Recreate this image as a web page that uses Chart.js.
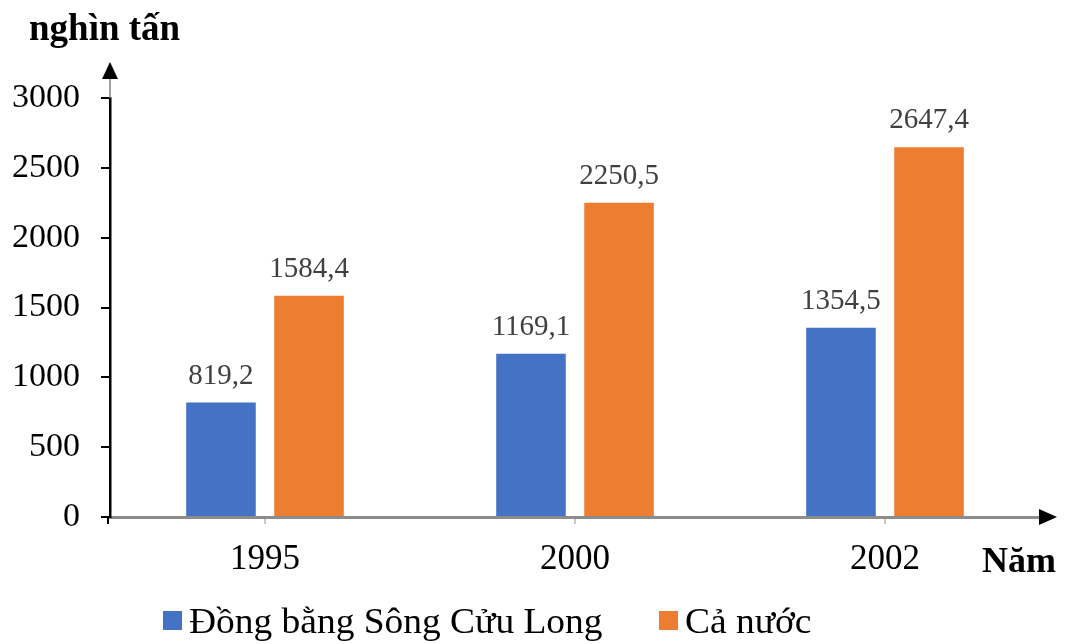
<!DOCTYPE html>
<html>
<head>
<meta charset="utf-8">
<script src="https://cdn.jsdelivr.net/npm/chart.js@4/dist/chart.umd.min.js"></script>
<style>
  html, body { margin: 0; padding: 0; background: #ffffff; }
  #wrap { width: 1065px; height: 644px; }
</style>
</head>
<body>
<div id="wrap"><canvas id="c" width="1065" height="644"></canvas></div>
<script>
// Sản lượng thủy sản (nghìn tấn)
const years = ['1995', '2000', '2002'];
const dbsclValues = [819.2, 1169.1, 1354.5];
const caNuocValues = [1584.4, 2250.5, 2647.4];
const seriesNames = ['Đồng bằng Sông Cửu Long', 'Cả nước'];
const yTicks = [0, 500, 1000, 1500, 2000, 2500, 3000];
const yAxisTitle = 'nghìn tấn';
const xAxisTitle = 'Năm';

const BLUE = '#4472C4';
const ORANGE = '#ED7D31';
const SERIF = "'Liberation Serif', 'Times New Roman', serif";

function fmt(v) {
  return v.toFixed(1).replace('.', ',');
}

// Axis arrows, titles, value labels and legend
const decorPlugin = {
  id: 'decor',
  afterDraw(chart) {
    const ctx = chart.ctx;
    const a = chart.chartArea;
    const yAxisX = a.left;
    const xAxisY = a.bottom;
    ctx.save();

    // vertical axis: short stub below the origin
    ctx.strokeStyle = '#000';
    ctx.lineWidth = 2;
    ctx.beginPath();
    ctx.moveTo(yAxisX - 2, xAxisY);
    ctx.lineTo(yAxisX - 2, xAxisY + 7);
    ctx.stroke();

    // vertical axis extension + arrow
    ctx.strokeStyle = '#7f7f7f';
    ctx.lineWidth = 1.5;
    ctx.beginPath();
    ctx.moveTo(yAxisX, a.top);
    ctx.lineTo(yAxisX, 78);
    ctx.stroke();
    ctx.fillStyle = '#000';
    ctx.beginPath();
    ctx.moveTo(yAxisX, 62);
    ctx.lineTo(yAxisX - 8, 79);
    ctx.lineTo(yAxisX + 8, 79);
    ctx.closePath();
    ctx.fill();

    // horizontal axis arrow
    ctx.beginPath();
    ctx.moveTo(1057, xAxisY);
    ctx.lineTo(1039, xAxisY - 8);
    ctx.lineTo(1039, xAxisY + 8);
    ctx.closePath();
    ctx.fill();

    // axis titles
    ctx.fillStyle = '#000';
    ctx.font = 'bold 37px ' + SERIF;
    ctx.textAlign = 'left';
    ctx.textBaseline = 'alphabetic';
    ctx.fillText(yAxisTitle, 29, 40);
    ctx.font = 'bold 36px ' + SERIF;
    ctx.fillText(xAxisTitle, 982, 572);

    // value labels above bars
    ctx.font = '29px ' + SERIF;
    ctx.fillStyle = '#404040';
    ctx.textAlign = 'center';
    chart.data.datasets.forEach((ds, di) => {
      const meta = chart.getDatasetMeta(di);
      meta.data.forEach((bar, i) => {
        ctx.fillText(fmt(ds.data[i]), bar.x, bar.y - 19);
      });
    });

    // legend
    const legendItems = [
      { x: 163, color: BLUE, text: seriesNames[0] },
      { x: 659, color: ORANGE, text: seriesNames[1] }
    ];
    ctx.textAlign = 'left';
    legendItems.forEach(it => {
      ctx.fillStyle = it.color;
      ctx.fillRect(it.x, 611, 19, 19);
      ctx.save();
      ctx.translate(it.x + 26, 633);
      ctx.scale(1.07, 1);
      ctx.font = '35px ' + SERIF;
      ctx.fillStyle = '#000';
      ctx.fillText(it.text, 0, 0);
      ctx.restore();
    });

    ctx.restore();
  }
};

new Chart(document.getElementById('c'), {
  type: 'bar',
  data: {
    labels: years,
    datasets: [
      {
        label: seriesNames[0],
        data: dbsclValues,
        backgroundColor: BLUE,
        categoryPercentage: 0.568,
        barPercentage: 0.79
      },
      {
        label: seriesNames[1],
        data: caNuocValues,
        backgroundColor: ORANGE,
        categoryPercentage: 0.568,
        barPercentage: 0.79
      }
    ]
  },
  options: {
    responsive: false,
    animation: false,
    layout: { padding: { top: 98, right: 25, bottom: 67, left: 0 } },
    plugins: {
      legend: { display: false },
      tooltip: { enabled: false }
    },
    scales: {
      x: {
        offset: true,
        grid: {
          display: true,
          drawOnChartArea: false,
          drawTicks: true,
          tickLength: 7,
          offset: false,
          color: '#c8c8c8',
          lineWidth: 2
        },
        border: { display: true, color: '#8c8c8c', width: 3 },
        ticks: {
          font: { family: SERIF, size: 35 },
          color: '#000',
          padding: 15
        },
        afterFit(scale) { scale.height = 60; }
      },
      y: {
        min: 0,
        max: 3000,
        afterBuildTicks(scale) {
          scale.ticks = yTicks.map(v => ({ value: v }));
        },
        grid: {
          display: true,
          drawOnChartArea: false,
          drawTicks: true,
          tickLength: 9,
          color: '#000',
          lineWidth: 2
        },
        border: { display: true, color: '#000', width: 2.5 },
        ticks: {
          font: { family: SERIF, size: 34 },
          color: '#000',
          padding: 21,
          callback: v => String(v)
        },
        afterFit(scale) { scale.width = 110; }
      }
    }
  },
  plugins: [decorPlugin]
});
</script>
</body>
</html>
